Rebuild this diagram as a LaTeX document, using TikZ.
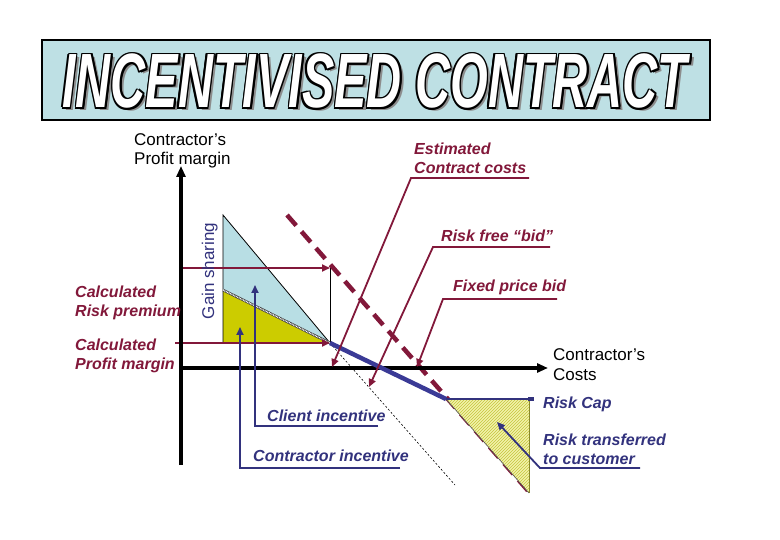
\documentclass[tikz,border=0pt]{standalone}
\usepackage{fontspec}
\setmainfont{Liberation Sans}
\usetikzlibrary{arrows.meta,patterns}
\definecolor{cred}{RGB}{130,24,58}
\definecolor{cnavy}{RGB}{50,50,125}
\definecolor{cline}{RGB}{58,58,150}
\definecolor{titlefill}{RGB}{190,224,228}
\definecolor{triblue}{RGB}{184,222,228}
\definecolor{tyel}{RGB}{204,204,0}
\definecolor{hatchbg}{RGB}{242,242,170}
\definecolor{hatchfg}{RGB}{196,196,60}
\newcommand\ttltext{INCENTIVISED CONTRACT}
\begin{document}
\begin{tikzpicture}[x=1pt,y=-1pt,
  ttl/.style={font=\fontsize{77}{77}\selectfont\bfseries\itshape, xscale=0.63, anchor=base, inner sep=0},
  blk/.style={font=\fontsize{17}{19}\selectfont, text=black, anchor=base west, inner sep=0},
  redlbl/.style={font=\fontsize{16}{19}\selectfont\bfseries\itshape, text=cred, anchor=base west, inner sep=0},
  bluelbl/.style={font=\fontsize{16}{19}\selectfont\bfseries\itshape, text=cnavy, anchor=base west, inner sep=0},
  axis/.style={line width=4pt, -{Triangle[length=11pt,width=9pt]}},
  redarrow/.style={draw=cred, line width=1.8pt, -{Triangle[length=8pt,width=7pt]}},
  bluearrow/.style={draw=cnavy, line width=1.8pt, -{Triangle[length=8pt,width=7pt]}},
]
\useasboundingbox (0,0) rectangle (780,540);
\fill[white] (0,0) rectangle (780,540);

% title
\node[draw=black, line width=2pt, fill=titlefill, minimum width=668pt, minimum height=80pt, inner sep=0] (titlebox) at (376,80) {};
\node[ttl, text=black!45] (tshadow) at (378.5,110.5) {\ttltext};
\foreach \dx/\dy [count=\i] in {-1.3/-1.3,0/-1.5,1.3/-1.3,-1.5/0,1.5/0,-1.3/1.3,0/1.5,1.3/1.3} {
  \node[ttl, text=black] (tout\i) at (375+\dx,108+\dy) {\ttltext};
}
\node[ttl, text=white] (title) at (375,108) {\ttltext};

% coordinates
\coordinate (bt) at (223,215);
\coordinate (ty) at (223,290);
\coordinate (tb) at (223,343);
\coordinate (tr) at (330,343);
\coordinate (rp0) at (181,268);
\coordinate (rp1) at (330,268);
\coordinate (pm0) at (175,343);
\coordinate (rc0) at (446,399);
\coordinate (rc1) at (534,399);
\coordinate (hc) at (529,399);
\coordinate (hb) at (529,493);
\coordinate (dt) at (455,485);
\coordinate (d0) at (287,215);
\coordinate (d1) at (530,493);

% triangles
\fill[triblue] (bt) -- (tb) -- (tr) -- cycle;
\fill[tyel] (ty) -- (tb) -- (tr) -- cycle;
\draw[line width=0.8pt] (tb) -- (bt) -- (tr);
\draw[line width=2.6pt, black!75] (ty) -- (tr);
\draw[line width=1.4pt, white, dash pattern=on 0.8pt off 0.8pt] (ty) -- (tr);

% thin dotted continuation
\draw[line width=0.6pt, dash pattern=on 2pt off 2pt] (tr) -- (dt);

% red horizontal arrows and vertical thin line
\draw[redarrow] (rp0) -- (rp1);
\draw[redarrow] (pm0) -- (tr);
\draw[line width=0.8pt] (rp1) -- (tr);

% red dashed line
\draw[cred, line width=4.5pt, dash pattern=on 14pt off 8pt] (d0) -- (d1);

% hatched triangle
\fill[hatchbg] (rc0) -- (hc) -- (hb) -- cycle;
\fill[pattern=north east lines, pattern color=hatchfg] (rc0) -- (hc) -- (hb) -- cycle;
\draw[line width=0.6pt, black!70] (rc0) -- (hb);
\draw[line width=0.6pt, hatchfg!70!black] (hc) -- (hb);

% axes
\coordinate (yb) at (181,465);
\coordinate (yt) at (181,166);
\coordinate (xo) at (179,368);
\coordinate (xe) at (548,368);
\draw[axis] (yb) -- (yt);
\draw[axis] (xo) -- (xe);

% blue thick line and risk cap
\draw[cline, line width=4.5pt] (tr) -- (rc0);
\draw[cnavy, line width=2pt] (rc0) -- (rc1);
\draw[cnavy, line width=4pt] (528,399) -- (rc1);

% red callout arrows
\coordinate (e0) at (529,178); \coordinate (e1) at (411,178); \coordinate (e2) at (332,367);
\draw[redarrow] (e0) -- (e1) -- (e2);
\coordinate (f0) at (550,247); \coordinate (f1) at (433,247); \coordinate (f2) at (369,387);
\draw[redarrow] (f0) -- (f1) -- (f2);
\coordinate (g0) at (557,299); \coordinate (g1) at (443,299); \coordinate (g2) at (417,367);
\draw[redarrow] (g0) -- (g1) -- (g2);

% blue callout arrows
\coordinate (ci0) at (400,468); \coordinate (ci1) at (240,468); \coordinate (ci2) at (240,327);
\draw[bluearrow] (ci0) -- (ci1) -- (ci2);
\coordinate (cl0) at (378,426); \coordinate (cl1) at (255,426); \coordinate (cl2) at (255,285);
\draw[bluearrow] (cl0) -- (cl1) -- (cl2);
\coordinate (rt0) at (640,468); \coordinate (rt1) at (540,468); \coordinate (rt2) at (497,422);
\draw[bluearrow] (rt0) -- (rt1) -- (rt2);

% labels
\node[blk] (ypm1) at (134,146) {Contractor’s};
\node[blk] (ypm2) at (134,165) {Profit margin};
\node[blk] (xcc1) at (553,361) {Contractor’s};
\node[blk] (xcc2) at (553,381) {Costs};
\node[redlbl] (est1) at (414,155) {Estimated};
\node[redlbl] (est2) at (414,174) {Contract costs};
\node[redlbl] (rfb) at (441,242) {Risk free “bid”};
\node[redlbl] (fpb) at (453,292) {Fixed price bid};
\node[redlbl] (crp1) at (75,298) {Calculated};
\node[redlbl] (crp2) at (75,317) {Risk premium};
\node[redlbl] (cpm1) at (75,351) {Calculated};
\node[redlbl] (cpm2) at (75,370) {Profit margin};
\node[bluelbl] (clin) at (267,421) {Client incentive};
\node[bluelbl] (coin) at (253,461) {Contractor incentive};
\node[bluelbl] (rcap) at (543,408) {Risk Cap};
\node[bluelbl] (rtc1) at (543,445) {Risk transferred};
\node[bluelbl] (rtc2) at (543,464) {to customer};
\node[font=\fontsize{17}{19}\selectfont, text=cnavy, rotate=90, anchor=base, inner sep=0] (gain) at (214,271) {Gain sharing};
\end{tikzpicture}
\end{document}
